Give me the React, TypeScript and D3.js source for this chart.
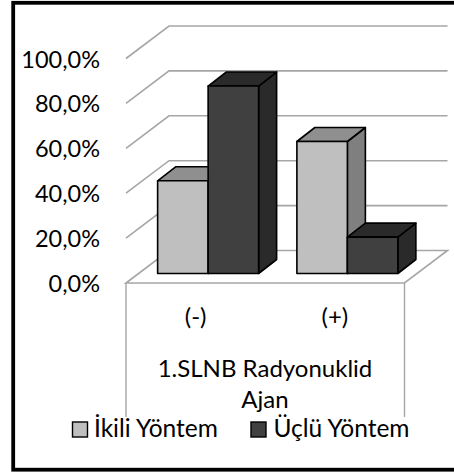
import React from "react";
import * as d3 from "d3";

const categories = ["(-)", "(+)"];
const seriesNames = ["İkili Yöntem", "Üçlü Yöntem"];
const ikili = [41.3, 58.8];
const uclu = [83.5, 16.2];
const ticks = [0, 20, 40, 60, 80, 100];
const tickLabels = ["0,0%", "20,0%", "40,0%", "60,0%", "80,0%", "100,0%"];

const FONT = "Lato, Carlito, sans-serif";
const GRID = "#a6a6a6";
const front = ["#bfbfbf", "#404040"];
const side = ["#7f7f7f", "#2a2a2a"];
const top = ["#8f8f8f", "#2a2a2a"];

export default function App() {
  const y = d3.scaleLinear().domain([0, 100]).range([283, 58.5]);
  const barBase = 273.5;
  const hScale = d3.scaleLinear().domain([0, 100]).range([0, 224.5]);
  const wallDx = 43;
  const wallDy = -32.5;
  const x0 = 126;
  const x1 = 404.5;
  const groupX = d3.scaleBand<string>().domain(categories).range([x0, x1]);
  const barW = 50.5;
  const dx = 18;
  const dy = -14;

  const bars = categories.flatMap((c, i) => {
    const cx = groupX(c)! + groupX.bandwidth() / 2;
    return [ikili[i], uclu[i]].map((v, s) => ({
      x: cx - 38 + s * barW,
      h: hScale(v),
      s,
      key: `${c}-${s}`,
    }));
  });

  return (
    <svg
      width={454}
      height={475}
      style={{ position: "absolute", left: 0, top: 0 }}
      fontFamily={FONT}
    >
      <rect x={0} y={0} width={454} height={475} fill="#fff" />
      {ticks.map((t) => {
        const yy = y(t);
        return (
          <path
            key={t}
            d={
              t === 0
                ? `M${x0},${yy}L${x0 + wallDx},${yy + wallDy}L${x1 + wallDx},${yy + wallDy}L${x1},${yy}Z`
                : `M${x0},${yy}L${x0 + wallDx},${yy + wallDy}L${x1 + wallDx},${yy + wallDy}`
            }
            fill="none"
            stroke={GRID}
            strokeWidth={1.6}
          />
        );
      })}
      <path
        d={`M${x0},${y(0)}V${417}M${x1},${y(0)}V${417}`}
        fill="none"
        stroke={GRID}
        strokeWidth={1.4}
      />
      {bars.map((b) => {
        const tY = barBase - b.h;
        const r = b.x + barW;
        return (
          <g key={b.key} stroke="#000" strokeWidth={1.6} strokeLinejoin="round">
            <path
              d={`M${r},${barBase}L${r + dx},${barBase + dy}V${tY + dy}L${r},${tY}Z`}
              fill={side[b.s]}
            />
            <path
              d={`M${b.x},${tY}L${b.x + dx},${tY + dy}H${r + dx}L${r},${tY}Z`}
              fill={top[b.s]}
            />
            <rect x={b.x} y={tY} width={barW} height={b.h} fill={front[b.s]} />
          </g>
        );
      })}
      {ticks.map((t, i) => (
        <text
          key={t}
          x={100}
          y={y(t) + 9}
          textAnchor="end"
          fontSize={23.5}
          fill="#000"
        >
          {tickLabels[i]}
        </text>
      ))}
      {categories.map((c) => (
        <text
          key={c}
          x={groupX(c)! + groupX.bandwidth() / 2}
          y={325}
          textAnchor="middle"
          fontSize={24}
          fill="#000"
        >
          {c}
        </text>
      ))}
      <text x={265} y={376.5} textAnchor="middle" fontSize={24} fill="#000">
        1.SLNB Radyonuklid
      </text>
      <text x={265} y={408} textAnchor="middle" fontSize={24} fill="#000">
        Ajan
      </text>
      {seriesNames.map((n, i) => {
        const lx = [72.5, 251][i];
        const tx = [94, 273.5][i];
        return (
          <g key={n}>
            <rect
              x={lx}
              y={422}
              width={15}
              height={15}
              fill={front[i]}
              stroke="#000"
              strokeWidth={1.4}
            />
            <text x={tx} y={436.5} fontSize={24.5} fill="#000">
              {n}
            </text>
          </g>
        );
      })}
      <rect
        x={13.2}
        y={2.8}
        width={500}
        height={466.9}
        fill="none"
        stroke="#000"
        strokeWidth={3.8}
      />
    </svg>
  );
}
